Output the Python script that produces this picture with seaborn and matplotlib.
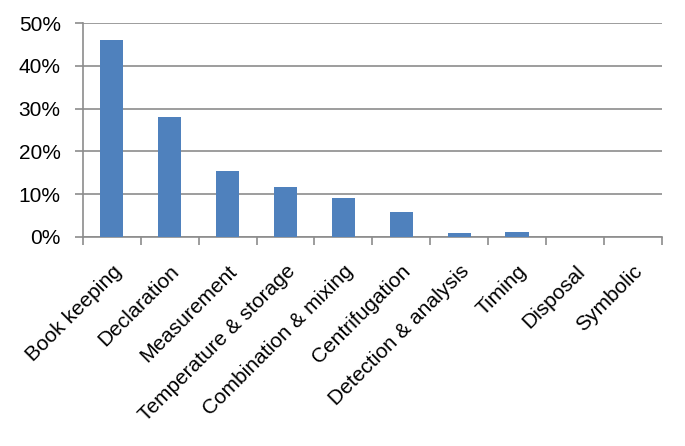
import numpy as np
import pandas as pd
import matplotlib.pyplot as plt
import seaborn as sns
from matplotlib.ticker import FixedLocator, PercentFormatter

categories = ['Book keeping', 'Declaration', 'Measurement', 'Temperature & storage',
              'Combination & mixing', 'Centrifugation', 'Detection & analysis',
              'Timing', 'Disposal', 'Symbolic']
shares = [46.0, 28.0, 15.4, 11.6, 9.1, 5.9, 0.9, 1.1, 0.0, 0.0]

sns.set_theme(style="white")
plt.rcParams['font.family'] = ['Liberation Sans', 'DejaVu Sans']

df = pd.DataFrame({'category': categories, 'share': shares})

fig = plt.figure(figsize=(6.85, 4.46), dpi=100)
ax = fig.add_axes([0.121, 0.469, 0.845, 0.479])

sns.barplot(data=df, x='category', y='share', color='#4F81BD', width=0.4,
            saturation=1, linewidth=0, ax=ax, zorder=3)

ax.set_ylim(0, 50)
ax.set_xlim(-0.5, len(categories) - 0.5)
ax.set_yticks([0, 10, 20, 30, 40, 50])
ax.yaxis.set_major_formatter(PercentFormatter(decimals=0))
ax.grid(axis='y', color='#8c8c8c', linewidth=1.2, zorder=0)
ax.set_xlabel('')
ax.set_ylabel('')

for s in ['top', 'right']:
    ax.spines[s].set_visible(False)
for s in ['left', 'bottom']:
    ax.spines[s].set_color('#8c8c8c')
    ax.spines[s].set_linewidth(1.2)

ax.tick_params(axis='y', length=6, color='#8c8c8c', width=1.2, labelsize=15, left=True, pad=10)
ax.tick_params(axis='x', which='major', length=0, labelsize=15, pad=18)
ax.xaxis.set_minor_locator(FixedLocator(np.arange(-0.5, len(categories), 1.0)))
ax.tick_params(axis='x', which='minor', length=6, color='#8c8c8c', width=1.2, bottom=True)
plt.setp(ax.get_xticklabels(), rotation=45, ha='right', rotation_mode='anchor')
for lbl in ax.get_xticklabels() + ax.get_yticklabels():
    lbl.set_color('black')

fig.savefig('out.png', dpi=100)
